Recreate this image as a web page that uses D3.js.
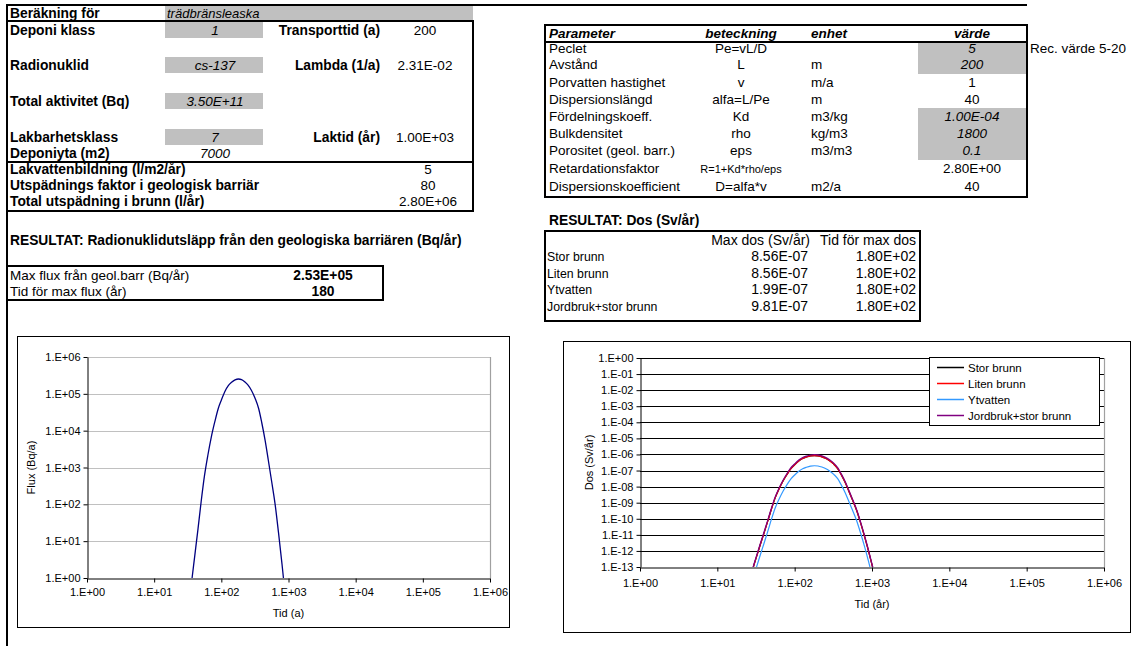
<!DOCTYPE html>
<html>
<head>
<meta charset="utf-8">
<script src="https://cdn.jsdelivr.net/npm/d3@7"></script>
<style>
  body { margin: 0; background: #fff; }
  svg { font-family: "Liberation Sans", Arial, sans-serif; display: block; }
</style>
</head>
<body>
<svg id="sheet" width="1133" height="646"></svg>
<script>
// ---------- values ----------
const years = [27, 30, 33, 36, 40, 45, 50, 56, 63, 71, 80, 90, 100, 113, 127, 142, 160, 180,
               200, 225, 250, 280, 320, 360, 400, 450, 500, 560, 630, 710, 800, 900, 1000, 1100];

// Flux from the geological barrier (Bq/a)
const flux = [0.008, 0.044, 0.19, 0.75, 3.7, 22, 116, 580, 2150, 6800, 17500, 40100, 67300,
              116000, 167000, 205000, 239000, 253000, 243000, 209000, 172000, 125000, 73500,
              39400, 16400, 5280, 1600, 430, 105, 17, 2.4, 0.30, 0.040, 0.0063];

// Dose (Sv/år)
const storBrunn = [2.7e-14, 1.5e-13, 6.5e-13, 2.5e-12, 1.2e-11, 7.4e-11, 3.9e-10, 2.0e-9, 7.3e-9,
                   2.3e-8, 5.9e-8, 1.35e-7, 2.3e-7, 3.9e-7, 5.6e-7, 6.9e-7, 8.1e-7, 8.56e-7,
                   8.23e-7, 7.1e-7, 5.8e-7, 4.2e-7, 2.5e-7, 1.33e-7, 5.5e-8, 1.8e-8, 5.4e-9,
                   1.45e-9, 3.5e-10, 5.8e-11, 8.0e-12, 1.0e-12, 1.35e-13, 2.1e-14];
const litenBrunn = [2.7e-14, 1.5e-13, 6.5e-13, 2.5e-12, 1.2e-11, 7.4e-11, 3.9e-10, 2.0e-9, 7.3e-9,
                    2.3e-8, 5.9e-8, 1.35e-7, 2.3e-7, 3.9e-7, 5.6e-7, 6.9e-7, 8.1e-7, 8.56e-7,
                    8.23e-7, 7.1e-7, 5.8e-7, 4.2e-7, 2.5e-7, 1.33e-7, 5.5e-8, 1.8e-8, 5.4e-9,
                    1.45e-9, 3.5e-10, 5.8e-11, 8.0e-12, 1.0e-12, 1.35e-13, 2.1e-14];
const ytvatten = [6.3e-15, 3.5e-14, 1.5e-13, 5.8e-13, 2.8e-12, 1.7e-11, 9.1e-11, 4.7e-10, 1.7e-9,
                  5.3e-9, 1.37e-8, 3.1e-8, 5.3e-8, 9.1e-8, 1.3e-7, 1.6e-7, 1.88e-7, 1.99e-7,
                  1.91e-7, 1.65e-7, 1.35e-7, 9.8e-8, 5.8e-8, 3.1e-8, 1.28e-8, 4.2e-9, 1.26e-9,
                  3.4e-10, 8.1e-11, 1.35e-11, 1.9e-12, 2.3e-13, 3.1e-14, 4.9e-15];
const jordbrukStorBrunn = [3.1e-14, 1.7e-13, 7.4e-13, 2.9e-12, 1.4e-11, 8.5e-11, 4.5e-10, 2.3e-9, 8.4e-9,
                           2.6e-8, 6.8e-8, 1.55e-7, 2.6e-7, 4.5e-7, 6.4e-7, 7.9e-7, 9.3e-7, 9.81e-7,
                           9.4e-7, 8.1e-7, 6.6e-7, 4.8e-7, 2.9e-7, 1.52e-7, 6.3e-8, 2.1e-8, 6.2e-9,
                           1.66e-9, 4.0e-10, 6.6e-11, 9.2e-12, 1.15e-12, 1.55e-13, 2.4e-14];

const doseNames = ["Stor brunn", "Liten brunn", "Ytvatten", "Jordbruk+stor brunn"];
const doseValues = [storBrunn, litenBrunn, ytvatten, jordbrukStorBrunn];
const doseColors = ["#000000", "#ff0000", "#3399ff", "#800080"];

// Axis ticks
const timeTicks = [1, 10, 100, 1e3, 1e4, 1e5, 1e6];
const fluxTicks = [1, 10, 100, 1e3, 1e4, 1e5, 1e6];
const doseTicks = [1, 1e-1, 1e-2, 1e-3, 1e-4, 1e-5, 1e-6, 1e-7, 1e-8, 1e-9, 1e-10, 1e-11, 1e-12, 1e-13];

// Input sheet
const inputRows = [
  ["Deponi klass", "1", "Transporttid (a)", "200"],
  ["Radionuklid", "cs-137", "Lambda (1/a)", "2.31E-02"],
  ["Total aktivitet (Bq)", "3.50E+11", "", ""],
  ["Lakbarhetsklass", "7", "Laktid (år)", "1.00E+03"],
  ["Deponiyta (m2)", "7000", "", ""]
];
const dilutionRows = [
  ["Lakvattenbildning (l/m2/år)", "5"],
  ["Utspädnings faktor i geologisk barriär", "80"],
  ["Total utspädning i brunn (l/år)", "2.80E+06"]
];
const paramHeader = ["Parameter", "beteckning", "enhet", "värde"];
const paramRows = [
  ["Peclet", "Pe=vL/D", "", "5", true],
  ["Avstånd", "L", "m", "200", true],
  ["Porvatten hastighet", "v", "m/a", "1", false],
  ["Dispersionslängd", "alfa=L/Pe", "m", "40", false],
  ["Fördelningskoeff.", "Kd", "m3/kg", "1.00E-04", true],
  ["Bulkdensitet", "rho", "kg/m3", "1800", true],
  ["Porositet (geol. barr.)", "eps", "m3/m3", "0.1", true],
  ["Retardationsfaktor", "R=1+Kd*rho/eps", "", "2.80E+00", false],
  ["Dispersionskoefficient", "D=alfa*v", "m2/a", "40", false]
];
const fluxResult = [
  ["Max flux från geol.barr (Bq/år)", "2.53E+05"],
  ["Tid för max flux (år)", "180"]
];
const maxDose = ["8.56E-07", "8.56E-07", "1.99E-07", "9.81E-07"];
const maxDoseTime = ["1.80E+02", "1.80E+02", "1.80E+02", "1.80E+02"];

// ---------- drawing ----------
const svg = d3.select("#sheet");
const GREY = "#c0c0c0";
const FS = 13.5;   // regular cell text
const FB = 13.8;   // bold labels

function text(g, x, y, s, o = {}) {
  return g.append("text")
    .attr("x", x).attr("y", y)
    .attr("font-size", o.size || (o.bold ? FB : FS))
    .attr("font-weight", o.bold ? "bold" : null)
    .attr("font-style", o.italic ? "italic" : null)
    .attr("text-anchor", o.anchor || "start")
    .attr("fill", "#000")
    .text(s);
}
function rect(g, x, y, w, h, fill, stroke, sw) {
  return g.append("rect").attr("x", x).attr("y", y).attr("width", w).attr("height", h)
    .attr("fill", fill || "none").attr("stroke", stroke || "none").attr("stroke-width", sw || 0);
}
function line(g, x1, y1, x2, y2, stroke, sw) {
  return g.append("line").attr("x1", x1).attr("y1", y1).attr("x2", x2).attr("y2", y2)
    .attr("stroke", stroke).attr("stroke-width", sw);
}

const sheet = svg.append("g");

// --- top-left input block ---
rect(sheet, 165, 6, 308, 14, GREY);
text(sheet, 10, 18, "Beräkning för", { bold: true });
text(sheet, 167, 18, "trädbränsleaska", { italic: true, size: 13 });

const inputY = [30, 65, 101, 137, 153];
inputRows.forEach((r, i) => {
  const y = inputY[i];
  if (i < 4) rect(sheet, 165, y - 8, 98, 16, GREY);
  text(sheet, 10, y + 5, r[0], { bold: true });
  text(sheet, 215, y + 5, r[1], { italic: true, anchor: "middle" });
  if (r[2]) text(sheet, 380, y + 5, r[2], { bold: true, anchor: "end" });
  if (r[3]) text(sheet, 425, y + 5, r[3], { anchor: "middle" });
});
const dilY = [169, 185, 201];
dilutionRows.forEach((r, i) => {
  text(sheet, 10, dilY[i] + 5, r[0], { bold: true });
  text(sheet, 428, dilY[i] + 5, r[1], { anchor: "middle" });
});
rect(sheet, 7, 21, 466, 141, "none", "#000", 2);
rect(sheet, 7, 162, 466, 49, "none", "#000", 2);

// --- parameter table ---
rect(sheet, 918, 42, 109, 32, GREY);
rect(sheet, 918, 108, 109, 52, GREY);
text(sheet, 549, 38, paramHeader[0], { bold: true, italic: true, size: FS });
text(sheet, 741, 38, paramHeader[1], { bold: true, italic: true, size: FS, anchor: "middle" });
text(sheet, 811, 38, paramHeader[2], { bold: true, italic: true, size: FS });
text(sheet, 972, 38, paramHeader[3], { bold: true, italic: true, size: FS, anchor: "middle" });
const paramY = [48, 64, 82, 99, 116, 133, 150, 168, 186];
paramRows.forEach((r, i) => {
  const y = paramY[i] + 5;
  text(sheet, 549, y, r[0]);
  text(sheet, 741, y, r[1], { anchor: "middle", size: r[1].length > 12 ? 11 : FS });
  text(sheet, 811, y, r[2]);
  text(sheet, 972, y, r[3], { anchor: "middle", italic: r[4] });
});
text(sheet, 1030, 53, "Rec. värde 5-20");
rect(sheet, 545, 25, 482, 172, "none", "#000", 2);
line(sheet, 545, 42, 1027, 42, "#000", 2);

// --- sheet edges ---
line(sheet, 6, 5, 1027, 5, "#000", 2);
line(sheet, 7, 4, 7, 646, "#000", 2);

// --- flux result ---
text(sheet, 10, 245, "RESULTAT: Radionuklidutsläpp från den geologiska barriären (Bq/år)", { bold: true });
rect(sheet, 7, 266, 376, 34, "none", "#000", 2);
fluxResult.forEach((r, i) => {
  const y = 280 + i * 16;
  text(sheet, 10, y, r[0]);
  text(sheet, 323, y, r[1], { bold: true, anchor: "middle" });
});

// --- dose result ---
text(sheet, 549, 225, "RESULTAT: Dos (Sv/år)", { bold: true });
rect(sheet, 545, 231, 375, 90, "none", "#000", 2);
text(sheet, 810, 245, "Max dos (Sv/år)", { anchor: "end", size: 14 });
text(sheet, 916, 245, "Tid för max dos", { anchor: "end", size: 14 });
doseNames.forEach((n, i) => {
  const y = 261 + i * 16.5;
  text(sheet, 547, y, n, { size: 12.3 });
  text(sheet, 808, y, maxDose[i], { anchor: "end", size: 14 });
  text(sheet, 916, y, maxDoseTime[i], { anchor: "end", size: 14 });
});

// ---------- charts ----------
function expLabel(v) {
  const e = Math.round(Math.log10(v));
  return "1.E" + (e < 0 ? "-" : "+") + String(Math.abs(e)).padStart(2, "0");
}

function styleAxis(g) {
  g.selectAll("path.domain").attr("stroke", "#000").attr("stroke-width", 1);
  g.selectAll(".tick line").attr("stroke", "#000");
  g.selectAll(".tick text").attr("font-size", 11).attr("fill", "#000")
    .attr("font-family", "'Liberation Sans', Arial, sans-serif");
}

// Flux chart
{
  const box = { x: 17, y: 336, w: 492, h: 291 };
  const pl = { l: 87, r: 490, t: 357, b: 578 };
  const g = svg.append("g");
  rect(g, box.x + 0.5, box.y + 0.5, box.w, box.h, "#fff", "#000", 1);

  const x = d3.scaleLog().domain([1, 1e6]).range([pl.l, pl.r]);
  const y = d3.scaleLog().domain([1, 1e6]).range([pl.b, pl.t]);

  g.append("g").selectAll("line").data(fluxTicks.slice(1)).join("line")
    .attr("x1", pl.l).attr("x2", pl.r)
    .attr("y1", d => Math.round(y(d)) + 0.5).attr("y2", d => Math.round(y(d)) + 0.5)
    .attr("stroke", GREY).attr("stroke-width", 1.2);
  line(g, pl.r + 0.5, pl.t, pl.r + 0.5, pl.b, "#a0a0a0", 1.2);

  g.append("clipPath").attr("id", "clipFlux")
    .append("rect").attr("x", pl.l).attr("y", pl.t).attr("width", pl.r - pl.l).attr("height", pl.b - pl.t);
  const ln = d3.line().x(d => x(d[0])).y(d => y(d[1])).curve(d3.curveMonotoneX);
  g.append("path").datum(years.map((t, i) => [t, flux[i]]))
    .attr("clip-path", "url(#clipFlux)")
    .attr("d", ln).attr("fill", "none").attr("stroke", "#000080").attr("stroke-width", 1.3);

  const ax = g.append("g").attr("transform", `translate(0,${pl.b + 0.5})`)
    .call(d3.axisBottom(x).tickValues(timeTicks).tickFormat(expLabel).tickSizeInner(4).tickSizeOuter(0).tickPadding(6));
  styleAxis(ax);
  const ay = g.append("g").attr("transform", `translate(${pl.l + 0.5},0)`)
    .call(d3.axisLeft(y).tickValues(fluxTicks).tickFormat(expLabel).tickSizeInner(4).tickSizeOuter(0).tickPadding(3));
  styleAxis(ay);

  text(g, (pl.l + pl.r) / 2, 617, "Tid (a)", { size: 11, anchor: "middle" });
  text(g, 0, 0, "Flux (Bq/a)", { size: 11, anchor: "middle" })
    .attr("transform", `translate(35,${(pl.t + pl.b) / 2}) rotate(-90)`);
}

// Dose chart
{
  const box = { x: 563, y: 341, w: 567, h: 291 };
  const pl = { l: 640, r: 1104, t: 358, b: 567 };
  const g = svg.append("g");
  rect(g, box.x + 0.5, box.y + 0.5, box.w, box.h, "#fff", "#000", 1);

  const x = d3.scaleLog().domain([1, 1e6]).range([pl.l, pl.r]);
  const y = d3.scaleLog().domain([1e-13, 1]).range([pl.b, pl.t]);

  g.append("g").selectAll("line").data(doseTicks.slice(0, -1)).join("line")
    .attr("x1", pl.l).attr("x2", pl.r)
    .attr("y1", d => Math.round(y(d)) + 0.5).attr("y2", d => Math.round(y(d)) + 0.5)
    .attr("stroke", "#000").attr("stroke-width", 1);
  line(g, pl.r + 0.5, pl.t, pl.r + 0.5, pl.b, "#a0a0a0", 1.2);

  g.append("clipPath").attr("id", "clipDose")
    .append("rect").attr("x", pl.l).attr("y", pl.t).attr("width", pl.r - pl.l).attr("height", pl.b - pl.t);
  const ln = d3.line().x(d => x(d[0])).y(d => y(d[1])).curve(d3.curveMonotoneX);
  doseValues.forEach((vals, k) => {
    g.append("path").datum(years.map((t, i) => [t, vals[i]]))
      .attr("clip-path", "url(#clipDose)")
      .attr("d", ln).attr("fill", "none").attr("stroke", doseColors[k]).attr("stroke-width", 1.2);
  });

  const ax = g.append("g").attr("transform", `translate(0,${pl.b + 0.5})`)
    .call(d3.axisBottom(x).tickValues(timeTicks).tickFormat(expLabel).tickSizeInner(4).tickSizeOuter(0).tickPadding(8));
  styleAxis(ax);
  const ay = g.append("g").attr("transform", `translate(${pl.l + 0.5},0)`)
    .call(d3.axisLeft(y).tickValues(doseTicks).tickFormat(expLabel).tickSizeInner(4).tickSizeOuter(0).tickPadding(3));
  styleAxis(ay);

  text(g, (pl.l + pl.r) / 2, 608, "Tid (år)", { size: 11, anchor: "middle" });
  text(g, 0, 0, "Dos (Sv/år)", { size: 11, anchor: "middle" })
    .attr("transform", `translate(593,${(pl.t + pl.b) / 2}) rotate(-90)`);

  // legend
  const lg = g.append("g");
  rect(lg, 929.5, 357.5, 170, 68, "#fff", "#000", 1);
  doseNames.forEach((n, i) => {
    const ly = 367.5 + i * 16;
    line(lg, 937, ly, 964, ly, doseColors[i], 1.5);
    text(lg, 968, ly + 4, n, { size: 11.5 });
  });
}
</script>
</body>
</html>
